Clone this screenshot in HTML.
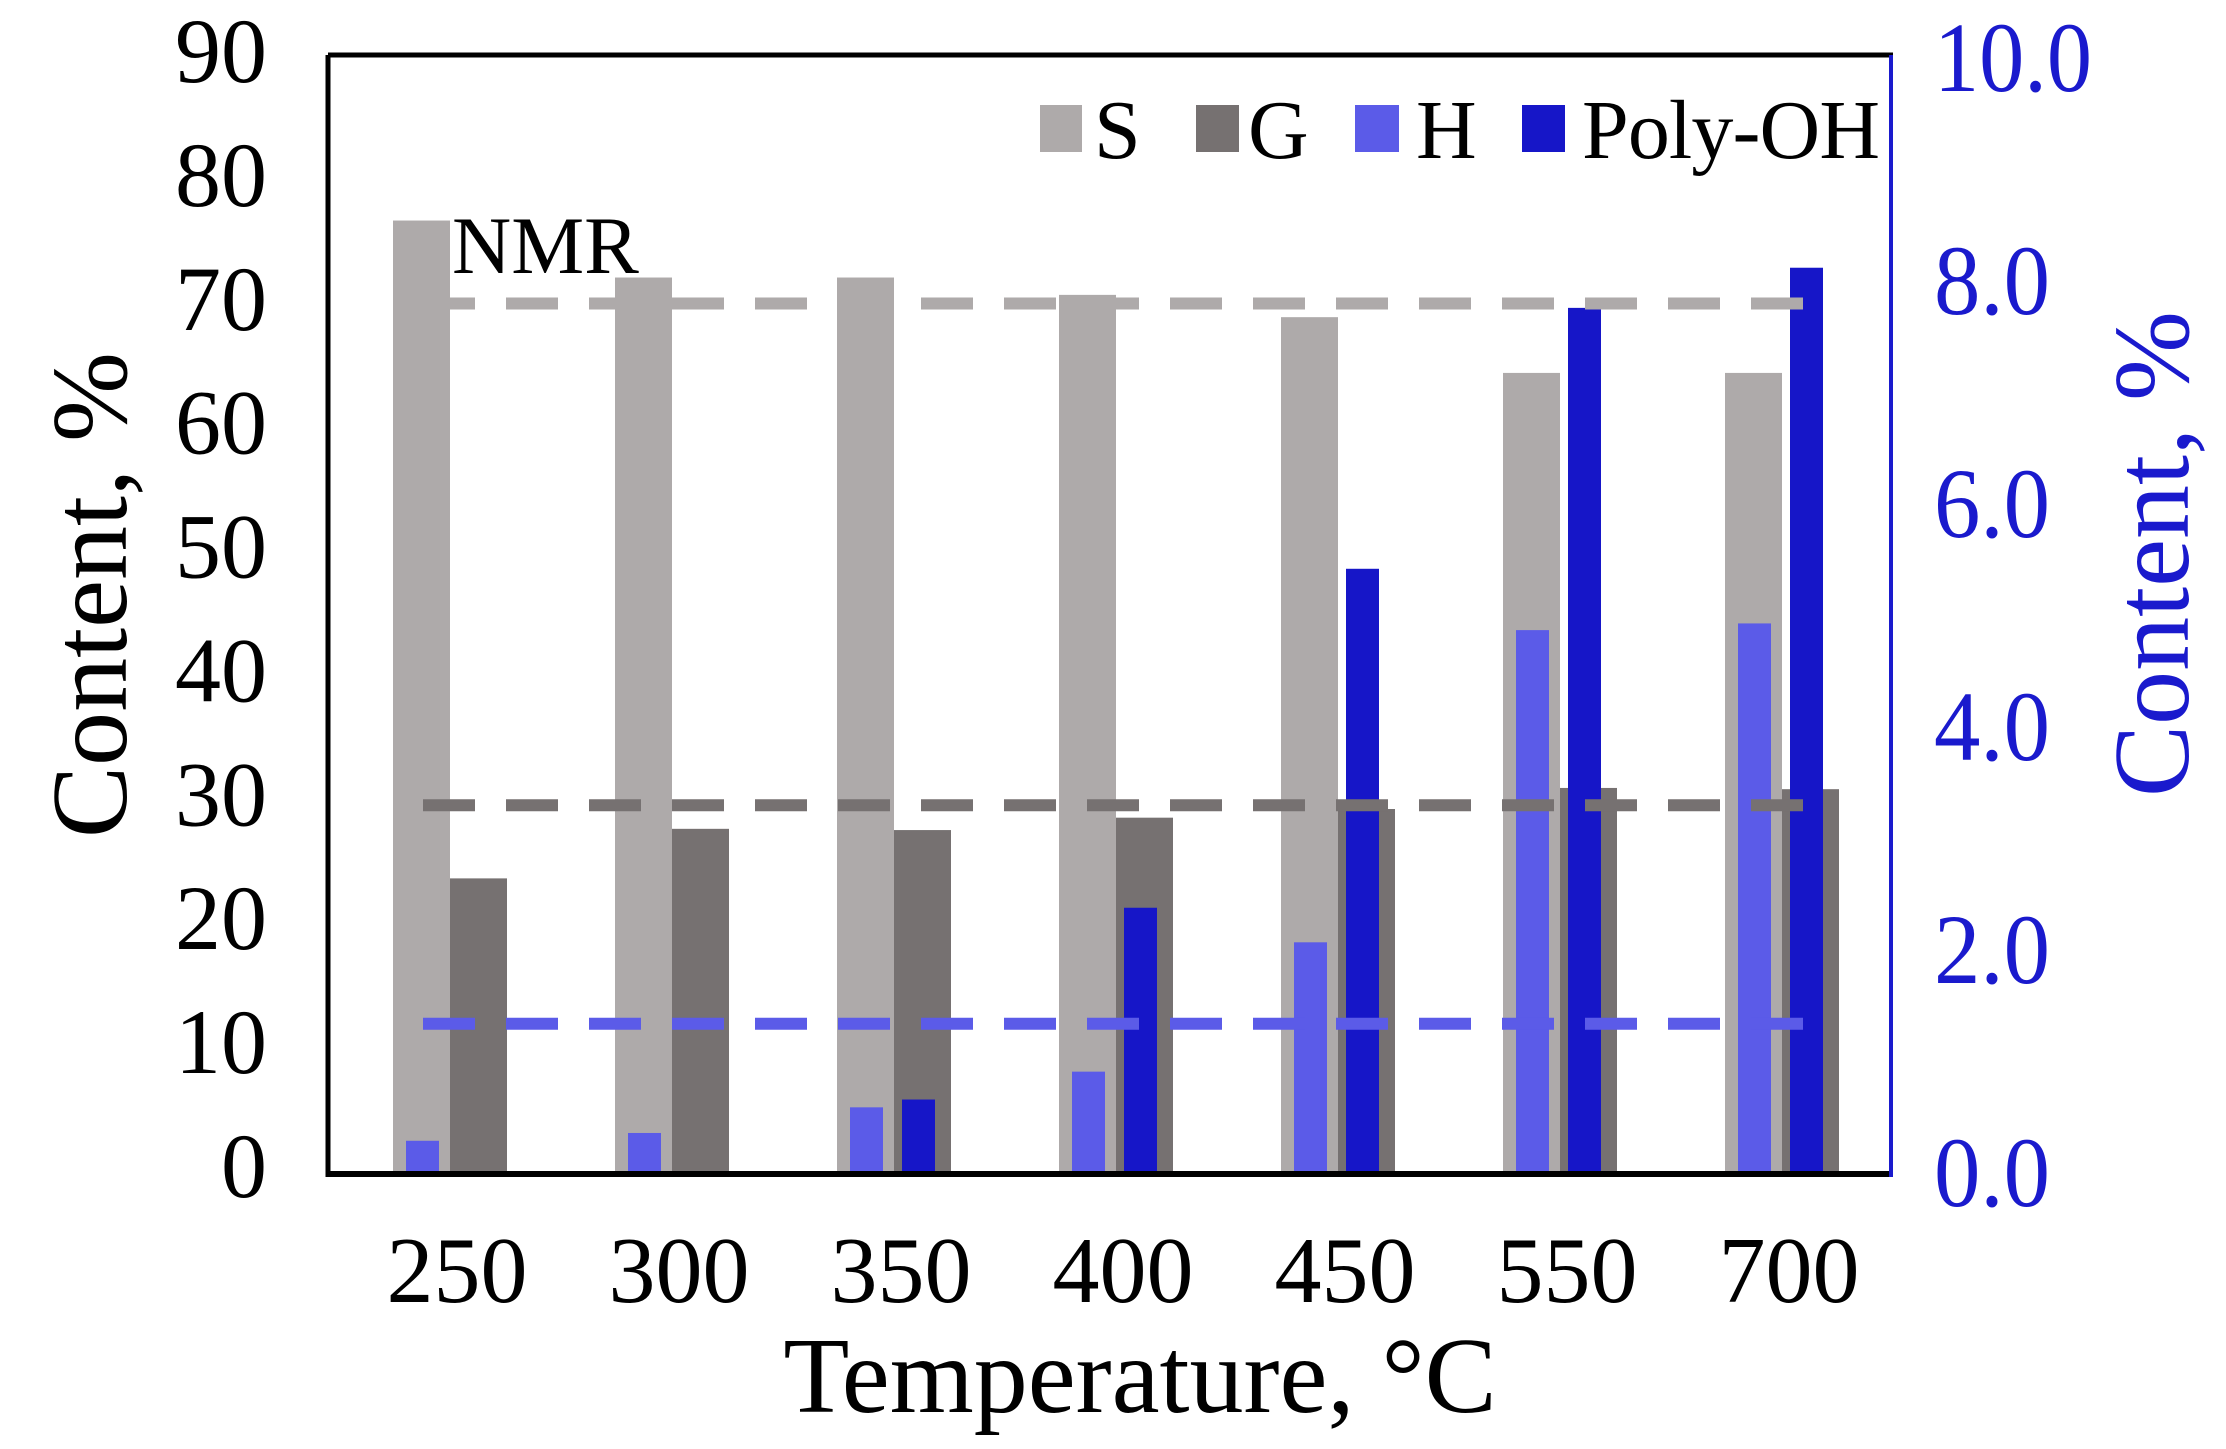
<!DOCTYPE html>
<html><head><meta charset="utf-8"><style>
html,body{margin:0;padding:0;background:#fff;}
svg{display:block;font-family:"Liberation Serif",serif;}
</style></head><body>
<svg id="chart" width="2226" height="1449" viewBox="0 0 2226 1449" xmlns="http://www.w3.org/2000/svg">
<rect width="2226" height="1449" fill="#fff"/>
<g id="bars"></g>
<g id="refs"></g>
<g id="axes"></g>
<g id="labels"></g>
<text x="452" y="273" font-size="82" fill="#000">NMR</text>
<g>
<rect x="1040" y="105" width="42" height="47" fill="#aeaaaa"/>
<text x="1094" y="158" font-size="84">S</text>
<rect x="1196" y="105" width="43" height="47" fill="#767171"/>
<text x="1248" y="158" font-size="84">G</text>
<rect x="1355" y="105" width="44" height="47" fill="#5b5be8"/>
<text x="1416" y="158" font-size="84">H</text>
<rect x="1522" y="105" width="43" height="47" fill="#1616c8"/>
<text x="1582" y="158" font-size="84" textLength="298">Poly-OH</text>
</g>
<text x="1140" y="1412" font-size="108" text-anchor="middle">Temperature, °C</text>
<text transform="translate(126,595) rotate(-90)" font-size="108" text-anchor="middle">Content, %</text>
<text transform="translate(2188,554) rotate(-90)" font-size="108" text-anchor="middle" fill="#1a1acd">Content, %</text>
</svg>
<script>
const categories = ["250","300","350","400","450","550","700"];
const sVals = [76.8, 72.2, 72.2, 70.8, 69.0, 64.5, 64.5];
const gVals = [23.7, 27.7, 27.6, 28.6, 29.3, 31.0, 30.9];
const hVals = [0.28, 0.35, 0.58, 0.90, 2.06, 4.86, 4.92];
const polyVals = [0, 0, 0.65, 2.37, 5.41, 7.75, 8.11];
const refS = 70.1;
const refG = 29.6;
const refH = 1.33;
const leftTicks = [0,10,20,30,40,50,60,70,80,90];
const rightTicks = ["0.0","2.0","4.0","6.0","8.0","10.0"];

const NS = "http://www.w3.org/2000/svg";
const Y0 = 1172, H = 1115;
function yL(v){ return Y0 - v/90*H; }
function yR(v){ return Y0 - v/10*H; }
function xGroup(i){ return 393 + 222*i; }
function mk(parent, tag, attrs){
  const e = document.createElementNS(NS, tag);
  for (const k in attrs) e.setAttribute(k, attrs[k]);
  parent.appendChild(e);
  return e;
}
const bars = document.getElementById('bars');
function bar(x, w, y, color, name){
  const r = mk(bars, 'rect', {x:x, y:y, width:w, height:Math.max(0, Y0 - y), fill:color});
  
  
}
categories.forEach((c, i) => {
  const sx = xGroup(i);
  bar(sx, 57, yL(sVals[i]), '#aeaaaa', 'bar-s-' + c);
  bar(sx + 57, 57, yL(gVals[i]), '#767171', 'bar-g-' + c);
  bar(sx + 13, 33, yR(hVals[i]), '#5b5be8', 'bar-h-' + c);
  bar(sx + 65, 33, yR(polyVals[i]), '#1616c8', 'bar-poly-oh-' + c);
});
const refs = document.getElementById('refs');
function ref(y, color, name){
  const l = mk(refs, 'line', {x1:423, x2:1806, y1:y, y2:y, stroke:color, 'stroke-width':12, 'stroke-dasharray':'52 31'});
  
  
}
ref(yL(refS), '#aeaaaa', 'nmr-ref-s');
ref(yL(refG), '#767171', 'nmr-ref-g');
ref(yR(refH), '#5b5be8', 'nmr-ref-h');

const axes = document.getElementById('axes');
let a;
a = mk(axes, 'line', {x1:328, y1:55, x2:1893, y2:55, stroke:'#000', 'stroke-width':5});


a = mk(axes, 'line', {x1:328, y1:55, x2:328, y2:1177, stroke:'#000', 'stroke-width':5});


a = mk(axes, 'line', {x1:326, y1:1174, x2:1893, y2:1174, stroke:'#000', 'stroke-width':6});


a = mk(axes, 'line', {x1:1891, y1:55, x2:1891, y2:1177, stroke:'#1a1acd', 'stroke-width':4});



const labels = document.getElementById('labels');
leftTicks.forEach(v => {
  const t = mk(labels, 'text', {x:267, y:yL(v) + 25, 'font-size':92, 'text-anchor':'end', fill:'#000'});
  t.textContent = String(v);
  
  
});
rightTicks.forEach(s => {
  const v = parseFloat(s);
  const t = mk(labels, 'text', {x:1934, y:yR(v) + 34, 'font-size':100, fill:'#1a1acd', textLength: s.length === 4 ? 158 : 116, lengthAdjust:'spacingAndGlyphs'});
  t.textContent = s;
  
  
});
categories.forEach((c, i) => {
  const t = mk(labels, 'text', {x:xGroup(i) + 64, y:1302, 'font-size':94, 'text-anchor':'middle', fill:'#000'});
  t.textContent = c;
  
  
});
</script>
</body></html>
